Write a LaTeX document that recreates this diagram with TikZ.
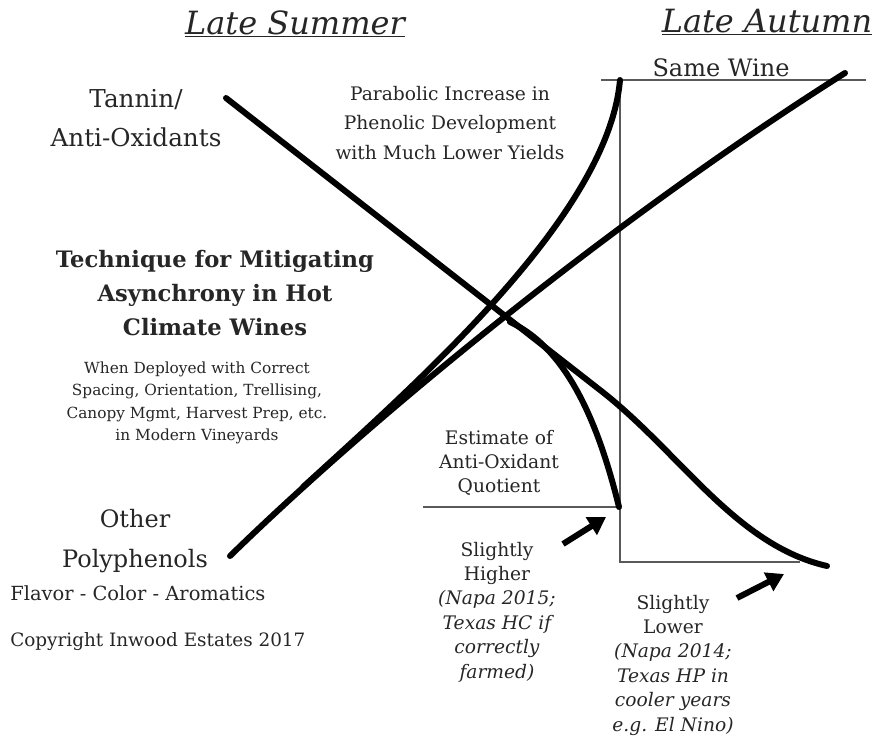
\documentclass[tikz,border=0pt]{standalone}
\usepackage{fontspec}
\setmainfont{DejaVu Serif}
\usetikzlibrary{arrows.meta}
\tikzset{
  curve/.style={line width=4.5pt,line cap=round},
  guide/.style={line width=1pt,black!65},
  fatarrow/.style={line width=4.5pt,-{Triangle[length=13pt,width=15pt]}},
  label/.style={align=center,inner sep=0pt,text=black!85},
}
\newcommand{\fs}[1]{\fontsize{#1}{1.2\dimexpr#1\relax}\selectfont}
\begin{document}
\begin{tikzpicture}[x=0.75pt,y=-0.75pt]
\useasboundingbox (0,0) rectangle (879,736);
% Season headings
\node[label,font=\fs{24pt}\itshape] (summer) at (295,24) {\underline{Late Summer}};
\node[label,font=\fs{24pt}\itshape] (autumn) at (767,22) {\underline{Late Autumn}};
\node[label,font=\fs{18pt}] (same) at (721,68) {Same Wine};

% Thin guide lines
\draw[guide] (601,80) -- (866,80);
\draw[guide] (620,80) -- (620,562) -- (800,562);
\draw[guide] (423,507) -- (620,507);

% Curves
\coordinate (tan) at (226,98);
\coordinate (poly) at (230,556);
\draw[curve] (tan) -- (600,390) .. controls (680,452) and (735,545) .. (827,566);
\draw[curve] (poly) .. controls (380,410) and (620,215) .. (845,73);
\draw[curve] (303,487) .. controls (420,380) and (608,215) .. (620,80);
\draw[curve] (510,322) .. controls (570,350) and (600,430) .. (619,507);

% Left labels
\node[label,font=\fs{18.5pt}] (tannin) at (136,118) {Tannin/\\[7pt]Anti-Oxidants};
\node[label,font=\fs{17pt}\bfseries] (tech) at (215,293) {Technique for Mitigating\\[5pt]Asynchrony in Hot\\[5pt]Climate Wines};
\node[label,font=\fs{11.5pt}] (deploy) at (197,403) {When Deployed with Correct\\[3pt]Spacing, Orientation, Trellising,\\[3pt]Canopy Mgmt, Harvest Prep, etc.\\[3pt]in Modern Vineyards};
\node[label,font=\fs{18pt}] (other) at (135,541) {Other\\[8pt]Polyphenols};
\node[label,anchor=west,font=\fs{14.6pt}] (flavor) at (10,593) {Flavor - Color - Aromatics};
\node[label,anchor=west,font=\fs{13.8pt}] (copy) at (10,642) {Copyright Inwood Estates 2017};

% Middle labels
\node[label,font=\fs{14pt}] (parab) at (450,123) {Parabolic Increase in\\[5pt]Phenolic Development\\[5pt]with Much Lower Yields};
\node[label,font=\fs{14pt}] (estim) at (499,463) {Estimate of\\[1pt]Anti-Oxidant\\[1pt]Quotient};
\node[label,font=\fs{14pt}] (higher) at (497,612) {Slightly\\[1.5pt]Higher\\[1.5pt]\itshape(Napa 2015;\\[1.5pt]\itshape Texas HC if\\[1.5pt]\itshape correctly\\[1.5pt]\itshape farmed)};
\node[label,font=\fs{14pt}] (lower) at (673,665) {Slightly\\[1.5pt]Lower\\[1.5pt]\itshape(Napa 2014;\\[1.5pt]\itshape Texas HP in\\[1.5pt]\itshape cooler years\\[1.5pt]\itshape e.g. El Nino)};

% Arrows
\coordinate (ha) at (563,544);
\coordinate (hb) at (606,517);
\coordinate (la) at (737,598);
\coordinate (lb) at (784,574);
\draw[fatarrow] (ha) -- (hb);
\draw[fatarrow] (la) -- (lb);
\end{tikzpicture}
\end{document}
